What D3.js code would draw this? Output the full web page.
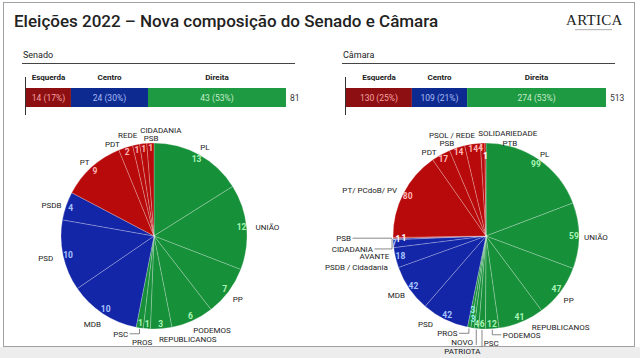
<!DOCTYPE html>
<html><head><meta charset="utf-8">
<script src="https://cdn.jsdelivr.net/npm/d3@7"></script>
<style>
body{margin:0;background:#fff;}
svg{display:block;font-family:Roboto,"Liberation Sans",Arial,sans-serif;}
</style></head><body>
<svg id="c" width="640" height="358"></svg>
<script>
// ---------- DATA ----------
const blocNames = ["Esquerda","Centro","Direita"];
const senadoBlocSeats = [14,24,43];
const senadoBlocPct = ["17%","30%","53%"];
const senadoTotal = 81;
const camaraBlocSeats = [130,109,274];
const camaraBlocPct = ["25%","21%","53%"];
const camaraTotal = 513;

const senadoParties = ["PL","UNIÃO","PP","PODEMOS","REPUBLICANOS","PROS","PSC","MDB","PSD","PSDB","PT","PDT","REDE","CIDADANIA","PSB"];
const senadoSeats   = [13,12,7,6,3,1,1,10,10,4,9,2,1,1,1];
const senadoBloc    = ["D","D","D","D","D","D","D","C","C","C","E","E","E","E","E"];

const camaraParties = ["PL","UNIÃO","PP","REPUBLICANOS","PODEMOS","PSC","PATRIOTA","NOVO","PROS","PSD","MDB","PSDB / Cidadania","AVANTE","CIDADANIA","PSB","PT/ PCdoB/ PV","PDT","PSB","PSOL / REDE","SOLIDARIEDADE","PTB"];
const camaraSeats   = [99,59,47,41,12,6,4,3,3,42,42,18,7,1,1,80,17,14,14,4,1];
const camaraBloc    = ["D","D","D","D","D","D","D","D","D","C","C","C","C","C","E","E","E","E","E","E","E"];

// ---------- STYLE ----------
const barColor = {E:"#8e0f12", C:"#0d2a90", D:"#1e9a42"};
const barText  = {E:"#f3a3a3", C:"#a9bdf5", D:"#c6eccb"};
const pieStops = {
  E:["#ff3a3a","#e41c1c","#b80a0a"],
  C:["#3a5cff","#2040e0","#1426a8"],
  D:["#3ad468","#26b24e","#17903a"]
};
const valColor = {E:"#ffb8b8", C:"#a8c4ff", D:"#aaf5b5"};
const blocKeys = ["E","C","D"];

const svg = d3.select("#c");
const defs = svg.append("defs");

// frame
svg.append("rect").attr("x",0).attr("y",347).attr("width",640).attr("height",11).attr("fill","#ededed");
svg.append("rect").attr("x",3.5).attr("y",2.5).attr("width",631).attr("height",344)
  .attr("fill","none").attr("stroke","#a0a0a0").attr("stroke-width",1);

// title
svg.append("text").attr("x",14).attr("y",27).attr("font-size",17).attr("font-weight",500)
  .attr("fill","#222").text("Eleições 2022 – Nova composição do Senado e Câmara");

// logo
svg.append("text").attr("x",566).attr("y",25).attr("font-family","'Liberation Serif',serif")
  .attr("font-size",15).attr("letter-spacing",0.3).attr("fill","#222").text("ARTICA");
svg.append("rect").attr("x",575).attr("y",29).attr("width",37).attr("height",1.2).attr("fill","#bbb");

// ---------- BARS ----------
function drawBar(title, x0, x1, seats, pct, total){
  const g = svg.append("g");
  g.append("text").attr("x",x0-3).attr("y",58).attr("font-size",9).attr("fill","#222").text(title);
  g.append("line").attr("x1",x0-4).attr("x2",x0+269).attr("y1",63.5).attr("y2",63.5)
    .attr("stroke","#444").attr("stroke-width",1);
  const xs = d3.scaleLinear().domain([0,total]).range([x0,x1]);
  const starts = d3.cumsum([0, ...seats]);
  seats.forEach((v,i)=>{
    const a = xs(starts[i]), b = xs(starts[i]+v), k = blocKeys[i];
    g.append("rect").attr("x",a).attr("y",88).attr("width",b-a).attr("height",19).attr("fill",barColor[k]);
    g.append("text").attr("x",(a+b)/2).attr("y",100.5).attr("text-anchor","middle")
      .attr("font-size",8.5).attr("fill",barText[k]).text(`${v} (${pct[i]})`);
    g.append("text").attr("x",(a+b)/2).attr("y",80).attr("text-anchor","middle")
      .attr("font-size",8).attr("font-weight",700).attr("fill","#222").text(blocNames[i]);
  });
  g.append("line").attr("x1",x0-0.5).attr("x2",x0-0.5).attr("y1",77).attr("y2",115)
    .attr("stroke","#333").attr("stroke-width",1);
  g.append("text").attr("x",x1+4).attr("y",101).attr("font-size",8.5).attr("fill","#333").text(total);
}
drawBar("Senado",26,286,senadoBlocSeats,senadoBlocPct,senadoTotal);
drawBar("Câmara",346,606,camaraBlocSeats,camaraBlocPct,camaraTotal);

// ---------- PIES ----------
function drawPie(id, parties, seats, bloc, cx, cy, R, nameNudge, valNudge, leaders, valTint){
  blocKeys.forEach(k=>{
    const gr = defs.append("radialGradient").attr("id",id+k).attr("gradientUnits","userSpaceOnUse")
      .attr("cx",cx+14).attr("cy",cy-16).attr("r",R*1.22);
    gr.append("stop").attr("offset","0%").attr("stop-color",pieStops[k][0]);
    gr.append("stop").attr("offset","65%").attr("stop-color",pieStops[k][1]);
    gr.append("stop").attr("offset","100%").attr("stop-color",pieStops[k][2]);
  });
  const g = svg.append("g").attr("transform",`translate(${cx},${cy})`);
  const arcs = d3.pie().sort(null).value(d=>d)(seats);
  const arc = d3.arc().innerRadius(0).outerRadius(R);
  g.selectAll("path").data(arcs).join("path").attr("d",arc)
    .attr("fill",(d,i)=>`url(#${id}${bloc[i]})`)
    .attr("stroke","rgba(255,255,255,0.33)").attr("stroke-width",0.7);
  const mid = d=>(d.startAngle+d.endAngle)/2;
  // values
  arcs.forEach((d,i)=>{
    const a = mid(d), n = valNudge[i]||{};
    g.append("text").attr("x",88*Math.sin(a)+(n.dx||0)).attr("y",-88*Math.cos(a)+(n.dy||0))
      .attr("dy","0.35em").attr("text-anchor","middle").attr("font-size",8.5).attr("font-weight",700)
      .attr("fill",(valTint[i])||valColor[bloc[i]]).text(seats[i]);
  });
  // names
  const pos = [];
  arcs.forEach((d,i)=>{
    const a = mid(d), n = nameNudge[i]||{};
    const s = Math.sin(a);
    const anchor = n.anchor || (s>0.05?"start":(s<-0.05?"end":"middle"));
    const x = 102*s+(n.dx||0), y = -102*Math.cos(a)+(n.dy||0);
    pos[i] = {x,y,anchor,a};
    g.append("text").attr("x",x).attr("y",y).attr("dy","0.35em").attr("text-anchor",anchor)
      .attr("font-size",8).attr("fill","#222").text(parties[i]);
  });
  // leader lines
  leaders.forEach(L=>{
    const p = pos[L.i];
    const ex = (R+1)*Math.sin(p.a), ey = -(R+1)*Math.cos(p.a);
    let pts;
    if(L.type==="v") pts = [[ex,ey],[ex,p.y+(L.end||4)]];
    else if(p.anchor==="end") pts = [[p.x+1.5,p.y],[ex,p.y],[ex,ey]];
    else pts = [[p.x-1.5,p.y],[ex,p.y],[ex,ey]];
    g.append("path").attr("d",d3.line()(pts)).attr("fill","none").attr("stroke","#555").attr("stroke-width",0.7);
  });
}

drawPie("s", senadoParties, senadoSeats, senadoBloc, 154, 236, 93,
  {0:{dx:-3},1:{dy:1},2:{dx:-3,dy:2},3:{dx:-3,dy:1},4:{dx:-3,dy:2},
   5:{anchor:"middle",dx:-4,dy:5},6:{dx:-10,dy:-3},7:{dx:3,dy:3},8:{dx:-1,dy:1},
   9:{dx:4,dy:2},10:{dx:4,dy:2},11:{dx:-3,dy:5},12:{dx:3,dy:-1},
   13:{anchor:"start",dx:-2,dy:-5},14:{anchor:"middle",dx:1,dy:4}},
  {},
  [{i:6}],
  {});

drawPie("k", camaraParties, camaraSeats, camaraBloc, 486, 236, 93,
  {0:{dx:-4,dy:2},1:{dx:-4,dy:1},2:{dx:-4,dy:3},3:{dx:7,dy:-3},
   4:{anchor:"start",dx:10,dy:-3},5:{anchor:"start",dx:2,dy:5},
   6:{anchor:"middle",dx:-13,dy:13.5},7:{anchor:"middle",dx:-9,dy:5},8:{dx:-10,dy:-3},
   9:{dx:-8,dy:-3},10:{dx:3,dy:2},11:{dx:1,dy:7},12:{dx:5,dy:12},
   13:{dx:-11,dy:9.5},14:{dx:-33,dy:0},15:{dx:2,dy:1},16:{dy:5},17:{dy:4},
   18:{dx:4},19:{anchor:"start",dx:-4,dy:-1},20:{anchor:"start",dx:17,dy:9}},
  {7:{dy:-4},8:{dx:3,dy:-13},12:{dx:-4},14:{dx:6},19:{dx:-2},20:{dy:8}},
  [{i:4},{i:5,type:"v"},{i:6,type:"v",end:-6},{i:8},{i:13},{i:14}],
  {7:"#8ff0e8",8:"#8ff0e8",13:"#ffffff",14:"#ffffff",20:"#ffffff"});
</script>
</body></html>
